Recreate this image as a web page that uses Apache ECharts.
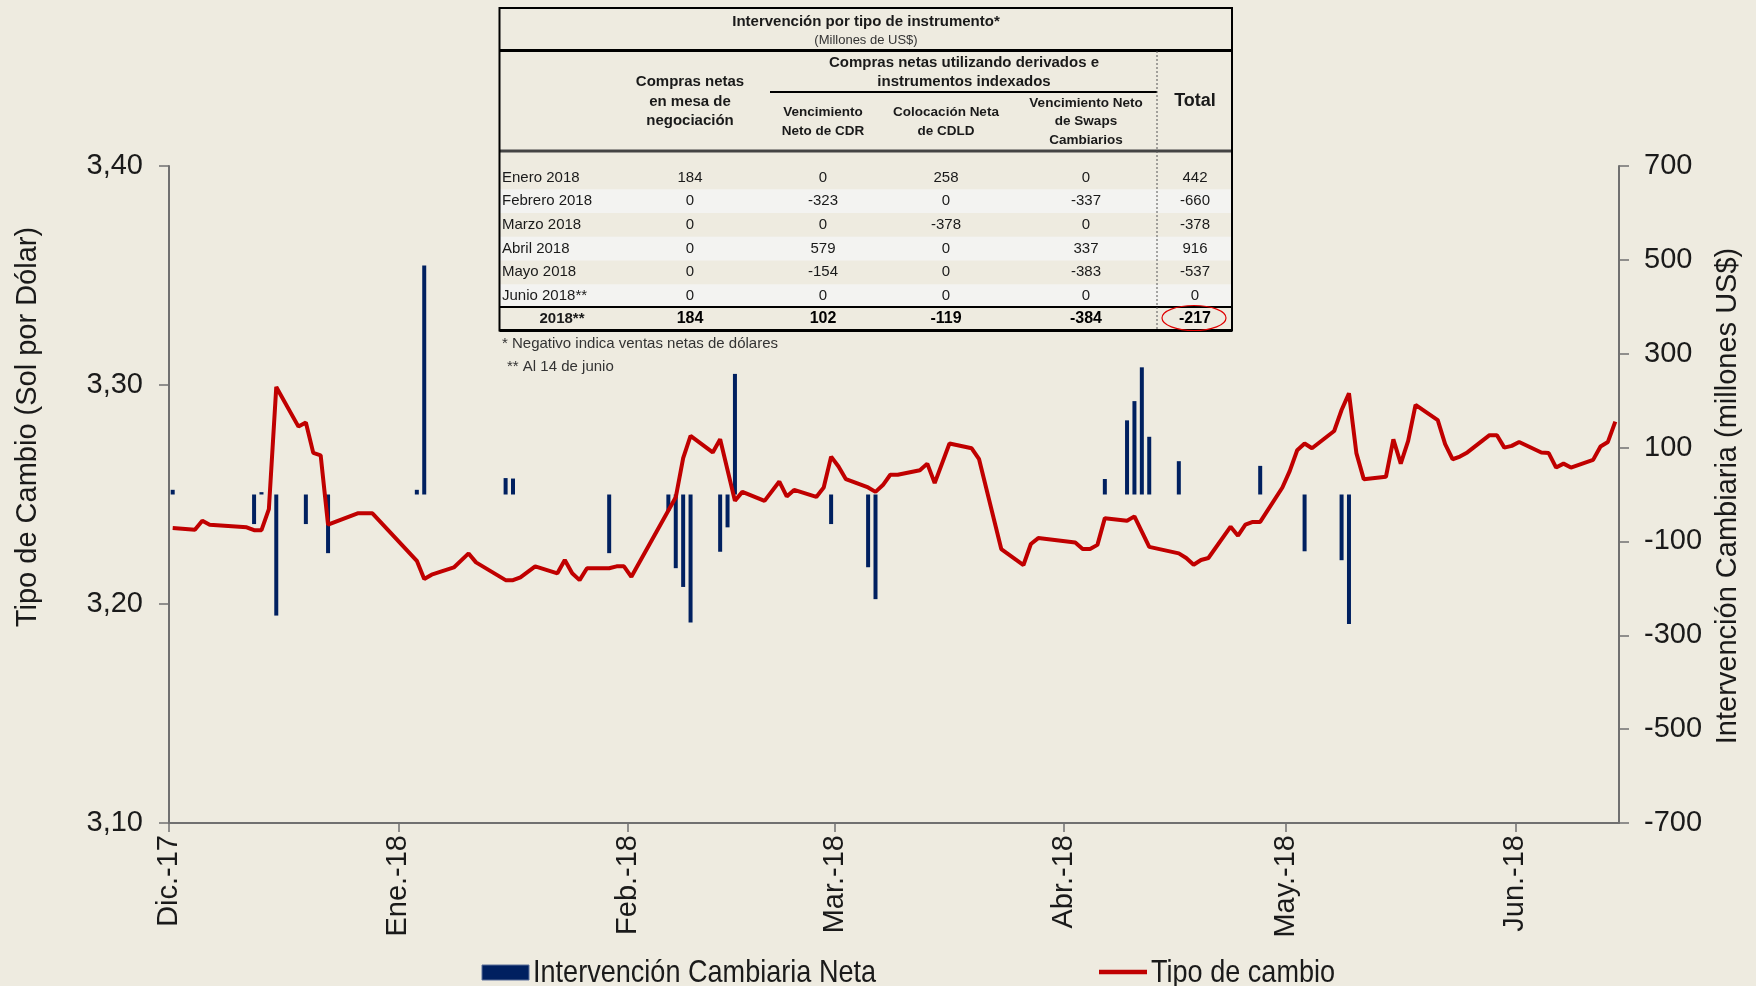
<!DOCTYPE html>
<html>
<head>
<meta charset="utf-8">
<script src="https://cdn.jsdelivr.net/npm/echarts@6/dist/echarts.min.js"></script>
<style>
  html, body { margin: 0; padding: 0; background: #EEEBE0; }
  #chart { width: 1756px; height: 986px; }
</style>
</head>
<body>
<div id="chart"></div>
<script>
// Tipo de cambio (Sol por Dólar), business days
const rateDates = [
  '2017-12-01','2017-12-04','2017-12-05','2017-12-06','2017-12-11','2017-12-12','2017-12-13','2017-12-14',
  '2017-12-15','2017-12-18','2017-12-19','2017-12-20','2017-12-21','2017-12-22','2017-12-26','2017-12-28',
  '2018-01-03','2018-01-04','2018-01-05','2018-01-08','2018-01-10','2018-01-11','2018-01-15','2018-01-16',
  '2018-01-17','2018-01-19','2018-01-22','2018-01-23','2018-01-24','2018-01-25','2018-01-26','2018-01-29',
  '2018-01-30','2018-01-31','2018-02-01','2018-02-07','2018-02-08','2018-02-09','2018-02-12','2018-02-13',
  '2018-02-15','2018-02-16','2018-02-19','2018-02-21','2018-02-22','2018-02-23','2018-02-26','2018-02-27',
  '2018-02-28','2018-03-01','2018-03-02','2018-03-05','2018-03-06','2018-03-07','2018-03-08','2018-03-09',
  '2018-03-12','2018-03-13','2018-03-14','2018-03-16','2018-03-19','2018-03-20','2018-03-23','2018-03-26',
  '2018-03-27','2018-03-28','2018-04-02','2018-04-03','2018-04-04','2018-04-05','2018-04-06','2018-04-09',
  '2018-04-10','2018-04-11','2018-04-12','2018-04-16','2018-04-17','2018-04-18','2018-04-19','2018-04-20',
  '2018-04-23','2018-04-24','2018-04-25','2018-04-26','2018-04-27','2018-04-30','2018-05-01','2018-05-02',
  '2018-05-03','2018-05-04','2018-05-07','2018-05-08','2018-05-09','2018-05-10','2018-05-11','2018-05-14',
  '2018-05-15','2018-05-16','2018-05-17','2018-05-18','2018-05-21','2018-05-22','2018-05-23','2018-05-24',
  '2018-05-25','2018-05-28','2018-05-29','2018-05-30','2018-05-31','2018-06-01','2018-06-04','2018-06-05',
  '2018-06-06','2018-06-07','2018-06-08','2018-06-11','2018-06-12','2018-06-13','2018-06-14'
];
const rateValues = [
  3.2347, 3.2339, 3.2380, 3.2362, 3.2350, 3.2337, 3.2337, 3.2433,
  3.2991, 3.2810, 3.2829, 3.2690, 3.2679, 3.2362, 3.2414, 3.2414,
  3.2197, 3.2114, 3.2134, 3.2167, 3.2231, 3.2190, 3.2109, 3.2109,
  3.2122, 3.2172, 3.2140, 3.2201, 3.2140, 3.2109, 3.2163, 3.2163,
  3.2172, 3.2172, 3.2124, 3.2487, 3.2666, 3.2768, 3.2692, 3.2752,
  3.2471, 3.2512, 3.2471, 3.2559, 3.2491, 3.2521, 3.2489, 3.2532,
  3.2673, 3.2628, 3.2570, 3.2532, 3.2512, 3.2543, 3.2590, 3.2590,
  3.2611, 3.2641, 3.2552, 3.2733, 3.2711, 3.2661, 3.2251, 3.2178,
  3.2274, 3.2301, 3.2281, 3.2251, 3.2251, 3.2270, 3.2392, 3.2380,
  3.2400, 3.2331, 3.2261, 3.2231, 3.2210, 3.2179, 3.2201, 3.2210,
  3.2353, 3.2312, 3.2362, 3.2375, 3.2375, 3.2532, 3.2608, 3.2702,
  3.2733, 3.2711, 3.2790, 3.2886, 3.2962, 3.2689, 3.2570, 3.2581,
  3.2752, 3.2641, 3.2745, 3.2909, 3.2840, 3.2730, 3.2661, 3.2673,
  3.2692, 3.2771, 3.2771, 3.2714, 3.2722, 3.2740, 3.2692, 3.2689,
  3.2623, 3.2641, 3.2623, 3.2658, 3.2719, 3.2740, 3.2833
];

// Intervención cambiaria neta (millones US$)
const interventionDates = [
  '2017-12-01','2017-12-12','2017-12-13','2017-12-15','2017-12-19','2017-12-22',
  '2018-01-03','2018-01-04','2018-01-15','2018-01-16','2018-01-29',
  '2018-02-06','2018-02-07','2018-02-08','2018-02-09','2018-02-13','2018-02-14','2018-02-15','2018-02-28',
  '2018-03-05','2018-03-06',
  '2018-04-06','2018-04-09','2018-04-10','2018-04-11','2018-04-12','2018-04-16','2018-04-27',
  '2018-05-03','2018-05-08','2018-05-09'
];
const interventionValues = [
  10, -63, 5, -258, -63, -125,
  10, 488, 35, 34, -125,
  -35, -157, -197, -273, -122, -70, 257, -63,
  -155, -223,
  33, 158, 199, 271, 123, 71, 61,
  -121, -140, -276
];

// Month ticks on the date axis
const monthStarts = ['2017-12-01','2018-01-01','2018-02-01','2018-03-01','2018-04-01','2018-05-01','2018-06-01'];
const monthLabels = ['Dic.-17','Ene.-18','Feb.-18','Mar.-18','Abr.-18','May.-18','Jun.-18'];
const axisStart = '2017-12-01';
const axisEnd = '2018-06-15';

// Series names shown in the legend
const seriesNames = ['Intervención Cambiaria Neta', 'Tipo de cambio'];

// Inset table: intervention by instrument (millones de US$)
const tableRowLabels = ['Enero 2018','Febrero 2018','Marzo 2018','Abril 2018','Mayo 2018','Junio 2018**'];
const colMesa   = [184, 0, 0, 0, 0, 0];
const colCDR    = [0, -323, 0, 579, -154, 0];
const colCDLD   = [258, 0, -378, 0, 0, 0];
const colSwaps  = [0, -337, 0, 337, -383, 0];
const colTotal  = [442, -660, -378, 916, -537, 0];
const totalRow  = ['2018**', 184, 102, -119, -384, -217];

const DAY = 86400000;
function ts(d) {
  const p = d.split('-').map(Number);
  return Date.UTC(p[0], p[1] - 1, p[2]);
}
// each daily value sits in the middle of its day slot
const mid = d => ts(d) + DAY / 2;

const rateData = rateDates.map((d, i) => [mid(d), rateValues[i]]);
const barData = interventionDates.map((d, i) => [mid(d), interventionValues[i]]);
const monthTs = monthStarts.map(ts);

const INK = '#1a1a1a';
const BAR_COLOR = '#002060';
const LINE_COLOR = '#C00000';
const NARROW = '"Liberation Sans Narrow", "Arial Narrow", sans-serif';
const SANS = '"Liberation Sans", Arial, sans-serif';

// ---- inset table drawn with graphic elements ----
const T = { left: 499.5, right: 1232, top: 8, bottom: 330.5 };
const colX = [690, 823, 946, 1086, 1195];
const rowY0 = 177.5, rowStep = 23.7;
const g = [];
function txt(s, x, y, font, align, color, extra) {
  g.push(Object.assign({ type: 'text', x: x, y: y, z: 110,
    style: { text: s, font: font, fill: color || INK, align: align || 'center', verticalAlign: 'middle' } }, extra || {}));
}
function hline(y, x1, x2, w, color, dash) {
  g.push({ type: 'line', z: 105, shape: { x1: x1, y1: y, x2: x2, y2: y },
    style: { stroke: color || '#000', lineWidth: w, lineDash: dash || null } });
}
g.push({ type: 'rect', z: 100, shape: { x: T.left, y: T.top, width: T.right - T.left, height: T.bottom - T.top },
  style: { fill: '#EEEBE0', stroke: null } });
tableRowLabels.forEach((lab, i) => {
  if (i % 2 === 1) {
    g.push({ type: 'rect', z: 101, shape: { x: T.left, y: rowY0 + i * rowStep - rowStep / 2, width: T.right - T.left, height: rowStep },
      style: { fill: '#F3F3F1' } });
  }
});
// title block
txt('Intervención por tipo de instrumento*', 866, 21.5, 'bold 15px ' + NARROW);
txt('(Millones de US$)', 866, 40, '13px ' + NARROW, 'center', '#333');
hline(50.5, T.left, T.right, 3);
// header
txt('Compras netas utilizando derivados e', 964, 63, 'bold 15px ' + NARROW);
txt('instrumentos indexados', 964, 82, 'bold 15px ' + NARROW);
hline(92, 770, 1157, 2);
['Compras netas', 'en mesa de', 'negociación'].forEach((s, i) => txt(s, colX[0], 82 + i * 19.5, 'bold 15px ' + NARROW));
['Vencimiento', 'Neto de CDR'].forEach((s, i) => txt(s, colX[1], 112 + i * 19, 'bold 13.5px ' + NARROW));
['Colocación Neta', 'de CDLD'].forEach((s, i) => txt(s, colX[2], 112 + i * 19, 'bold 13.5px ' + NARROW));
['Vencimiento Neto', 'de Swaps', 'Cambiarios'].forEach((s, i) => txt(s, colX[3], 103 + i * 18.5, 'bold 13.5px ' + NARROW));
txt('Total', colX[4], 101, 'bold 18px ' + SANS);
hline(151, T.left, T.right, 3, '#444');
// body rows
const cols = [colMesa, colCDR, colCDLD, colSwaps, colTotal];
tableRowLabels.forEach((lab, i) => {
  const y = rowY0 + i * rowStep;
  txt(lab, 502, y, '15px ' + SANS, 'left');
  cols.forEach((c, j) => txt(String(c[i]), colX[j], y, '15px ' + SANS));
});
hline(307, T.left, T.right, 2);
txt(totalRow[0], 562, 319, 'bold 15px ' + SANS);
totalRow.slice(1).forEach((v, j) => txt(String(v), colX[j], 319, 'bold 16px ' + SANS, 'center', '#000'));
g.push({ type: 'ellipse', z: 112, shape: { cx: 1194, cy: 318, rx: 32, ry: 12.5 },
  style: { fill: null, stroke: '#e00000', lineWidth: 1.2 } });
// borders
g.push({ type: 'line', z: 106, shape: { x1: 1157, y1: 51, x2: 1157, y2: T.bottom },
  style: { stroke: '#555', lineWidth: 1, lineDash: [2, 2] } });
g.push({ type: 'rect', z: 107, shape: { x: T.left, y: T.top, width: T.right - T.left, height: T.bottom - T.top },
  style: { fill: null, stroke: '#000', lineWidth: 2 } });
hline(T.bottom, T.left, T.right, 3);
// footnotes
txt('* Negativo indica ventas netas de dólares', 502, 344, '15px ' + SANS, 'left', '#333');
txt('** Al 14 de junio', 507, 367, '15px ' + SANS, 'left', '#333');
// axis titles
g.push({ type: 'text', x: 28, y: 427, rotation: Math.PI / 2, z: 110,
  style: { text: 'Tipo de Cambio (Sol por Dólar)', font: '29px ' + SANS, fill: INK, align: 'center', verticalAlign: 'middle' } });
g.push({ type: 'text', x: 1728, y: 496, rotation: Math.PI / 2, z: 110,
  style: { text: 'Intervención Cambiaria (millones US$)', font: '29px ' + SANS, fill: INK, align: 'center', verticalAlign: 'middle' } });

// legend (condensed lettering)
g.push({ type: 'rect', z: 110, shape: { x: 482, y: 965, width: 47, height: 15 },
  style: { fill: BAR_COLOR, stroke: '#5a6f99', lineWidth: 1 } });
txt(seriesNames[0], 533, 973, '32px ' + SANS, 'left', INK, { scaleX: 0.846 });
g.push({ type: 'line', z: 110, shape: { x1: 1099, y1: 972, x2: 1147, y2: 972 },
  style: { stroke: LINE_COLOR, lineWidth: 4.5 } });
txt(seriesNames[1], 1151, 973, '32px ' + SANS, 'left', INK, { scaleX: 0.846 });

const axisLineStyle = { color: '#707070', width: 2 };

const option = {
  backgroundColor: '#EEEBE0',
  animation: false,
  grid: { left: 169, right: 137, top: 166, bottom: 163, containLabel: false },
  xAxis: {
    type: 'value',
    min: ts(axisStart), max: ts(axisEnd),
    splitLine: { show: false },
    axisLine: { onZero: false, lineStyle: axisLineStyle },
    axisTick: { show: true, length: 9, lineStyle: { color: '#707070', width: 1.5 }, customValues: monthTs },
    axisLabel: {
      customValues: monthTs,
      rotate: 90, margin: 12,
      fontFamily: SANS, fontSize: 29, color: INK,
      formatter: function (v) {
        let best = 0;
        monthTs.forEach((m, i) => { if (Math.abs(m - v) < Math.abs(monthTs[best] - v)) best = i; });
        return monthLabels[best];
      }
    }
  },
  yAxis: [
    {
      type: 'value', position: 'left',
      min: 3.1, max: 3.4, interval: 0.1,
      splitLine: { show: false },
      axisLine: { show: true, lineStyle: axisLineStyle },
      axisTick: { show: true, length: 10, lineStyle: { color: '#707070', width: 1.5 } },
      axisLabel: { margin: 26, fontFamily: SANS, fontSize: 29, color: INK,
        formatter: v => v.toFixed(2).replace('.', ',') }
    },
    {
      type: 'value', position: 'right',
      min: -700, max: 700, interval: 200,
      splitLine: { show: false },
      axisLine: { show: true, lineStyle: axisLineStyle },
      axisTick: { show: true, length: 10, lineStyle: { color: '#707070', width: 1.5 } },
      axisLabel: { margin: 25, fontFamily: SANS, fontSize: 29, color: INK, align: 'left' }
    }
  ],
  series: [
    {
      name: seriesNames[0],
      type: 'bar', yAxisIndex: 1,
      barWidth: 4,
      itemStyle: { color: BAR_COLOR },
      data: barData,
      z: 2
    },
    {
      name: seriesNames[1],
      type: 'line', yAxisIndex: 0,
      symbol: 'none',
      lineStyle: { color: LINE_COLOR, width: 4 },
      itemStyle: { color: LINE_COLOR },
      data: rateData,
      z: 3
    }
  ],
  graphic: { elements: g }
};

const chart = echarts.init(document.getElementById('chart'), null, { renderer: 'canvas' });
chart.setOption(option);
</script>
</body>
</html>
